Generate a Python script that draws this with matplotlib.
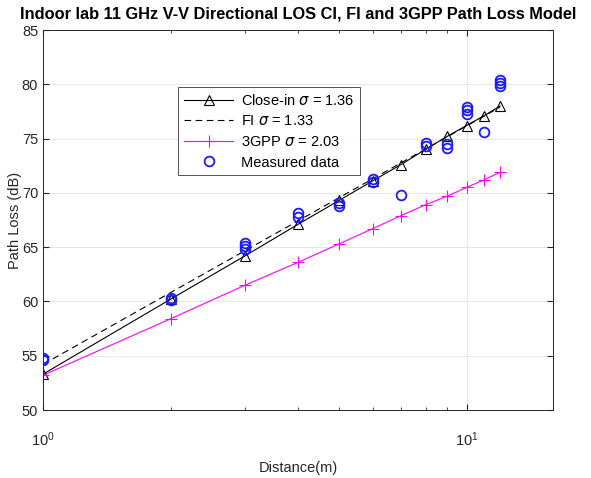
import matplotlib
matplotlib.use("Agg")
import matplotlib.pyplot as plt
import numpy as np

plt.rcParams['font.family'] = ['Liberation Sans', 'DejaVu Sans']
plt.rcParams['mathtext.fontset'] = 'dejavusans'

# Model distances (m)
distances = [1, 2, 3, 4, 5, 6, 7, 8, 9, 10, 11, 12]
# Close-in model path loss (dB)
ci_pl = [53.3, 60.2, 64.2, 67.1, 69.3, 71.1, 72.6, 74.0, 75.2, 76.2, 77.1, 78.0]
# 3GPP model path loss (dB)
gpp_pl = [53.2, 58.4, 61.5, 63.6, 65.3, 66.7, 67.9, 68.9, 69.7, 70.5, 71.2, 71.9]
# FI model endpoints
fi_d = [1, 12]
fi_pl = [54.2, 77.9]
# Measured data
meas_d = [1, 1, 2, 2, 3, 3, 3, 4, 4, 5, 5, 6, 6, 7, 8, 8, 9, 9,
          10, 10, 10, 11, 12, 12, 12]
meas_pl = [54.8, 54.6, 60.3, 60.1, 65.4, 65.1, 64.8, 68.1, 67.8, 69.1, 68.8,
           71.3, 71.0, 69.8, 74.6, 74.3, 74.5, 74.1,
           77.9, 77.6, 77.3, 75.6, 80.4, 80.1, 79.8]

labels = [r'Close-in $\sigma$ = 1.36', r'FI $\sigma$ = 1.33',
          r'3GPP $\sigma$ = 2.03', 'Measured data']

fig = plt.figure(figsize=(5.91, 4.78), dpi=100)
ax = fig.add_axes([43 / 591, 1 - 410 / 478, 510 / 591, 380 / 478])

ax.plot(distances, ci_pl, color='black', lw=0.8, marker='^', ms=7,
        mfc='none', mec='black', mew=0.8, label=labels[0])
ax.plot(fi_d, fi_pl, color='black', lw=0.8, ls=(0, (6, 4)), label=labels[1])
ax.plot(distances, gpp_pl, color='#ff00ff', lw=0.8, marker='+', ms=8,
        mew=0.8, label=labels[2])
ax.plot(meas_d, meas_pl, ls='none', marker='o', ms=7, mfc='none',
        mec='#1a1aff', mew=1.3, label=labels[3])

ax.set_xscale('log')
ax.set_xlim(1, 16)
ax.set_ylim(50, 85)
ax.set_yticks(np.arange(50, 86, 5))
ax.grid(True, which='major', color='#e6e6e6', lw=0.7)
ax.set_axisbelow(True)
ax.tick_params(which='both', direction='in', top=True, right=True,
               labelsize=10.5, colors='#262626')
ax.tick_params(axis='x', which='major', pad=15)
ax.tick_params(which='minor', length=2)
ax.tick_params(which='major', length=4)
for s in ax.spines.values():
    s.set_color('#262626')
    s.set_linewidth(0.7)

ax.set_xlabel('Distance(m)', fontsize=10.5, color='#262626', labelpad=8)
ax.set_ylabel('Path Loss (dB)', fontsize=10.5, color='#262626', labelpad=0)
ax.set_title('Indoor lab 11 GHz V-V Directional LOS CI, FI and 3GPP Path Loss Model',
             fontsize=11.8, fontweight='bold', pad=8)

leg = ax.legend(loc='upper left', bbox_to_anchor=(178 / 591, 1 - 87 / 478),
                bbox_transform=fig.transFigure, borderaxespad=0, fontsize=10.5,
                frameon=True, fancybox=False, edgecolor='#262626',
                handlelength=3.4, borderpad=0.4, labelspacing=0.45,
                handletextpad=0.5)
leg.get_frame().set_linewidth(0.7)

fig.savefig('out.png', dpi=100)
